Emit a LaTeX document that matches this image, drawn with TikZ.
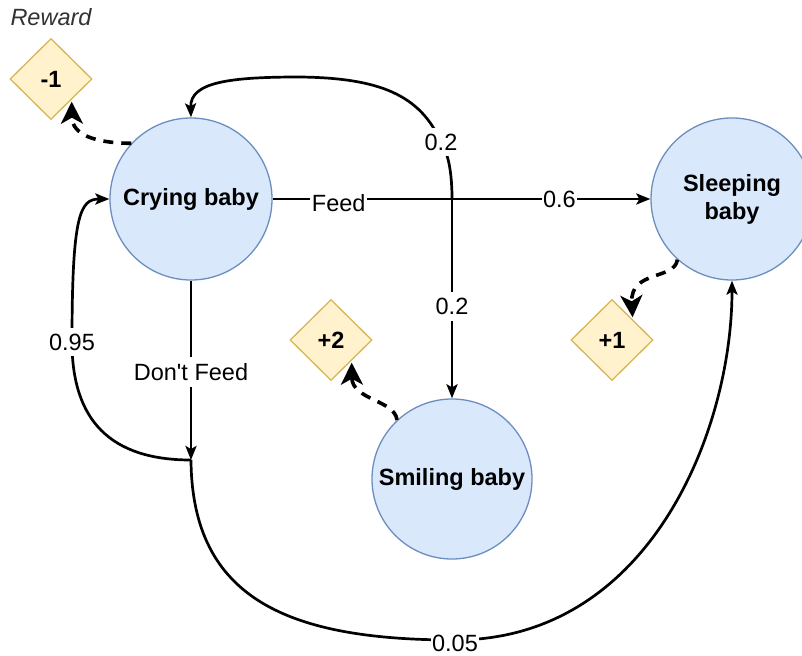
\documentclass[tikz,border=0pt]{standalone}
\usepackage{fontspec}
\setmainfont{Liberation Sans}[Ligatures=TeXOff]
\usetikzlibrary{shapes.geometric,arrows.meta}
\definecolor{stateFill}{HTML}{DAE8FC}
\definecolor{stateLine}{HTML}{6C8EBF}
\definecolor{rewardFill}{HTML}{FFF2CC}
\definecolor{rewardLine}{HTML}{D6B656}
\begin{document}
\begin{tikzpicture}[x=1pt,y=-1pt,
  state/.style={circle, minimum size=162pt, inner sep=0pt, fill=stateFill,
    draw=stateLine, line width=1.3pt, align=center,
    font=\fontsize{23.5}{28}\selectfont\bfseries},
  reward/.style={diamond, minimum width=82pt, minimum height=81pt, inner sep=0pt,
    fill=rewardFill, draw=rewardLine, line width=1.3pt,
    font=\fontsize{23.5}{28}\selectfont\bfseries},
  edge/.style={line width=2.7pt, -{Stealth[length=14pt,width=11pt,inset=3pt]}},
  rewedge/.style={line width=3.6pt, dash pattern=on 10pt off 8pt,
    -{Stealth[length=22pt,width=22pt,inset=6pt]}, shorten >=2pt},
  lbl/.style={fill=white, inner xsep=1.5pt, inner ysep=6pt,
    font=\fontsize{23.5}{28}\selectfont}
]
\path[use as bounding box] (0,0) rectangle (802,655);
\clip (0,0) rectangle (802,655);
\fill[white] (0,0) rectangle (802,655);

% states
\node[state] (cry) at (191,199) {Crying baby};
\node[state] (slp) at (732,199) {Sleeping\\baby};
\node[state, minimum size=160pt] (sml) at (452,479) {Smiling baby};

% rewards
\node[font=\fontsize{23.5}{28}\selectfont\itshape, text=black!80] (rewtitle) at (51,17) {Reward};
\node[reward] (m1) at (51,79) {-1};
\node[reward] (p2) at (331,340) {+2};
\node[reward] (p1) at (612,340) {+1};

% branching points of the two actions
\coordinate (fj) at (sml.north |- cry.east);
\coordinate (dj) at (191,460);

% Feed
\draw[edge] (cry.east) -- node[lbl, pos=0.175, yshift=-4pt] {Feed}
  node[lbl, pos=0.759] {0.6} (slp.west);
\draw[edge] (fj) -- node[lbl, pos=0.54] {0.2} (sml.north);
\draw[edge] (fj) .. controls (452,165) and (446,150) .. (441,142) node[lbl] {0.2}
  .. controls (420,95) and (380,78) .. (300,77)
  .. controls (230,77) and (190,82) .. (cry.north);

% Don't Feed
\draw[edge] (cry.south) -- node[lbl, pos=0.51] {Don't Feed} (dj);
\draw[edge] (dj) .. controls (110,460) and (72,420) .. (72,342) node[lbl] {0.95}
  .. controls (72,215) and (80,199) .. (cry.west);
\draw[edge] (dj) .. controls (192,600) and (290,640) .. (455,640)
  node[lbl, yshift=-3pt] {0.05}
  .. controls (650,640) and (732,430) .. (slp.south);

% rewards received in each state
\draw[rewedge] (cry.137) .. controls (95,143) and (72,135) .. (m1.-45);
\draw[rewedge] (slp.228.6) .. controls (675,280) and (630,270) .. (p1.45);
\draw[rewedge] (sml.133) .. controls (395,400) and (352,400) .. (p2.-45);
\end{tikzpicture}
\end{document}
